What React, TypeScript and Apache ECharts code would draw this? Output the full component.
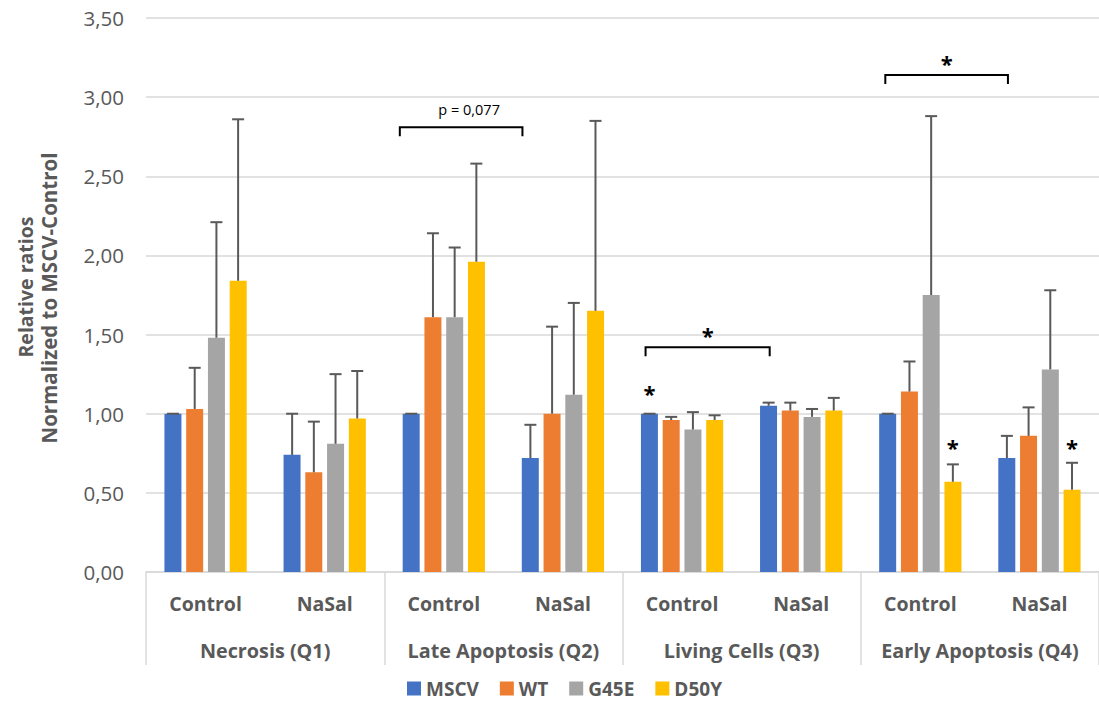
import React, { useEffect, useRef } from "react";
import * as echarts from "echarts";

const subCategories = ["Control", "NaSal", "Control", "NaSal", "Control", "NaSal", "Control", "NaSal"];
const groupCategories = ["Necrosis (Q1)", "Late Apoptosis (Q2)", "Living Cells (Q3)", "Early Apoptosis (Q4)"];
const seriesNames = ["MSCV", "WT", "G45E", "D50Y"];
const seriesColors = ["#4472C4", "#ED7D31", "#A5A5A5", "#FFC000"];

const mscv = [1.0, 0.74, 1.0, 0.72, 1.0, 1.05, 1.0, 0.72];
const mscvErr = [0.0, 0.26, 0.0, 0.21, 0.0, 0.02, 0.0, 0.14];
const wt = [1.03, 0.63, 1.61, 1.0, 0.96, 1.02, 1.14, 0.86];
const wtErr = [0.26, 0.32, 0.53, 0.55, 0.02, 0.05, 0.19, 0.18];
const g45e = [1.48, 0.81, 1.61, 1.12, 0.9, 0.98, 1.75, 1.28];
const g45eErr = [0.73, 0.44, 0.44, 0.58, 0.11, 0.05, 1.13, 0.5];
const d50y = [1.84, 0.97, 1.96, 1.65, 0.96, 1.02, 0.57, 0.52];
const d50yErr = [1.02, 0.3, 0.62, 1.2, 0.03, 0.08, 0.11, 0.17];

const yTicks = { min: 0, max: 3.5, interval: 0.5 };

// significance brackets: [fromCategory, toCategory, yValue]
const bracketSpans = [
  [2, 3, 2.81],
  [4, 5, 1.42],
  [6, 7, 3.14],
];
const bracketLabels = ["p = 0,077", "*", "*"];
// stars above bars: [category, seriesIndex, yValue]
const barStars = [
  [4, 0, 1.17],
  [6, 3, 0.83],
  [7, 3, 0.83],
];

const FONT = "'Open Sans', sans-serif";
const TEXT = "#595959";
const BAR_W = 17;
const BAR_STEP = 21.7;
const BRACKET_DX = [
  [-44, -40.5, 8],
  [-36.5, -31.5, 0],
  [-35, -31.5, 0],
];

export default function App() {
  const ref = useRef<HTMLDivElement>(null);
  useEffect(() => {
    document.body.style.margin = "0";
    const chart = echarts.init(ref.current!, undefined, { renderer: "svg" });
    const values = [mscv, wt, g45e, d50y];
    const errs = [mscvErr, wtErr, g45eErr, d50yErr];

    const barSeries = seriesNames.map((name, si) => ({
      name,
      type: "bar",
      xAxisIndex: 0,
      yAxisIndex: 0,
      barWidth: BAR_W,
      barGap: "28%",
      itemStyle: { color: seriesColors[si] },
      data: values[si],
      z: 2,
    }));

    const errSeries = seriesNames.map((_, si) => ({
      type: "custom",
      xAxisIndex: 0,
      yAxisIndex: 0,
      silent: true,
      z: 3,
      encode: { x: 0, y: [1, 2] },
      data: values[si].map((v, i) => [i, v, +(v + errs[si][i]).toFixed(3)]),
      renderItem: (params: any, api: any) => {
        const c = api.value(0);
        const base = api.coord([c, api.value(1)]);
        const top = api.coord([c, api.value(2)]);
        const x = base[0] + (si - 1.5) * BAR_STEP;
        return {
          type: "group",
          children: [
            { type: "line", shape: { x1: x, y1: base[1], x2: x, y2: top[1] }, style: { stroke: "#595959", lineWidth: 2 } },
            { type: "line", shape: { x1: x - 6, y1: top[1], x2: x + 6, y2: top[1] }, style: { stroke: "#595959", lineWidth: 2 } },
          ],
        };
      },
    }));

    const bracketSeries = {
      type: "custom",
      xAxisIndex: 0,
      yAxisIndex: 0,
      silent: true,
      z: 4,
      encode: { x: [0, 1], y: 2 },
      data: bracketSpans,
      renderItem: (params: any, api: any) => {
        const i = params.dataIndex;
        const p1 = api.coord([api.value(0), api.value(2)]);
        const p2 = api.coord([api.value(1), api.value(2)]);
        const x1 = p1[0] + BRACKET_DX[i][0];
        const x2 = p2[0] + BRACKET_DX[i][1];
        const y = p1[1];
        const label = bracketLabels[i];
        const isStar = label === "*";
        return {
          type: "group",
          children: [
            {
              type: "polyline",
              shape: { points: [[x1, y + 9], [x1, y], [x2, y], [x2, y + 9]] },
              style: { stroke: "#000", lineWidth: 2, fill: "none" },
            },
            {
              type: "text",
              x: (x1 + x2) / 2 + BRACKET_DX[i][2],
              y: isStar ? y - 12 : y - 18,
              style: {
                text: label,
                fill: "#000",
                font: isStar ? `bold 22px ${FONT}` : `14.5px ${FONT}`,
                align: "center",
                verticalAlign: "middle",
              },
            },
          ],
        };
      },
    };

    const starSeries = {
      type: "custom",
      xAxisIndex: 0,
      yAxisIndex: 0,
      silent: true,
      z: 4,
      encode: { x: 0, y: 2 },
      data: barStars,
      renderItem: (params: any, api: any) => {
        const p = api.coord([api.value(0), api.value(2)]);
        const x = p[0] + (api.value(1) - 1.5) * BAR_STEP;
        return {
          type: "text",
          x,
          y: p[1] + 6,
          style: {
            text: "*",
            fill: "#000",
            font: `bold 22px ${FONT}`,
            align: "center",
            verticalAlign: "middle",
          },
        };
      },
    };

    chart.setOption({
      animation: false,
      grid: { left: 146, right: -4, top: 18, bottom: 130, containLabel: false },
      legend: {
        data: seriesNames,
        left: 402,
        top: 674,
        itemWidth: 14,
        itemHeight: 14,
        itemGap: 21,
        icon: "rect",
        textStyle: { fontFamily: FONT, fontWeight: "bold", fontSize: 19, color: TEXT },
      },
      xAxis: [
        {
          type: "category",
          data: subCategories,
          position: "bottom",
          axisLine: { show: true, lineStyle: { color: "#D9D9D9", width: 1.5 } },
          axisTick: { show: false },
          axisLabel: { margin: 21, fontFamily: FONT, fontWeight: "bold", fontSize: 19.5, color: TEXT, interval: 0 },
          splitLine: { show: false },
        },
        {
          type: "category",
          data: groupCategories,
          position: "bottom",
          axisLine: { show: false },
          axisTick: { show: true, length: 93, interval: 0, lineStyle: { color: "#D9D9D9", width: 1.5 } },
          axisLabel: { margin: 68, fontFamily: FONT, fontWeight: "bold", fontSize: 19.8, color: TEXT, interval: 0 },
          splitLine: { show: false },
        },
      ],
      yAxis: {
        type: "value",
        min: yTicks.min,
        max: yTicks.max,
        interval: yTicks.interval,
        axisLine: { show: false },
        axisTick: { show: false },
        axisLabel: {
          margin: 22,
          fontFamily: FONT,
          fontSize: 20.5,
          color: TEXT,
          formatter: (v: number) => v.toFixed(2).replace(".", ","),
        },
        splitLine: { lineStyle: { color: "#D9D9D9", width: 1.5 } },
      },
      graphic: [
        {
          type: "text",
          x: 25,
          y: 287,
          rotation: Math.PI / 2,
          style: { text: "Relative ratios", font: `bold 19.5px ${FONT}`, fill: TEXT, align: "center", verticalAlign: "middle" },
        },
        {
          type: "text",
          x: 49,
          y: 298,
          rotation: Math.PI / 2,
          style: { text: "Normalized to MSCV-Control", font: `bold 20.5px ${FONT}`, fill: TEXT, align: "center", verticalAlign: "middle" },
        },
      ],
      series: [...barSeries, ...errSeries, bracketSeries, starSeries],
    });
    return () => chart.dispose();
  }, []);
  return <div ref={ref} style={{ position: "absolute", left: 0, top: 0, width: 1099, height: 702 }} />;
}
